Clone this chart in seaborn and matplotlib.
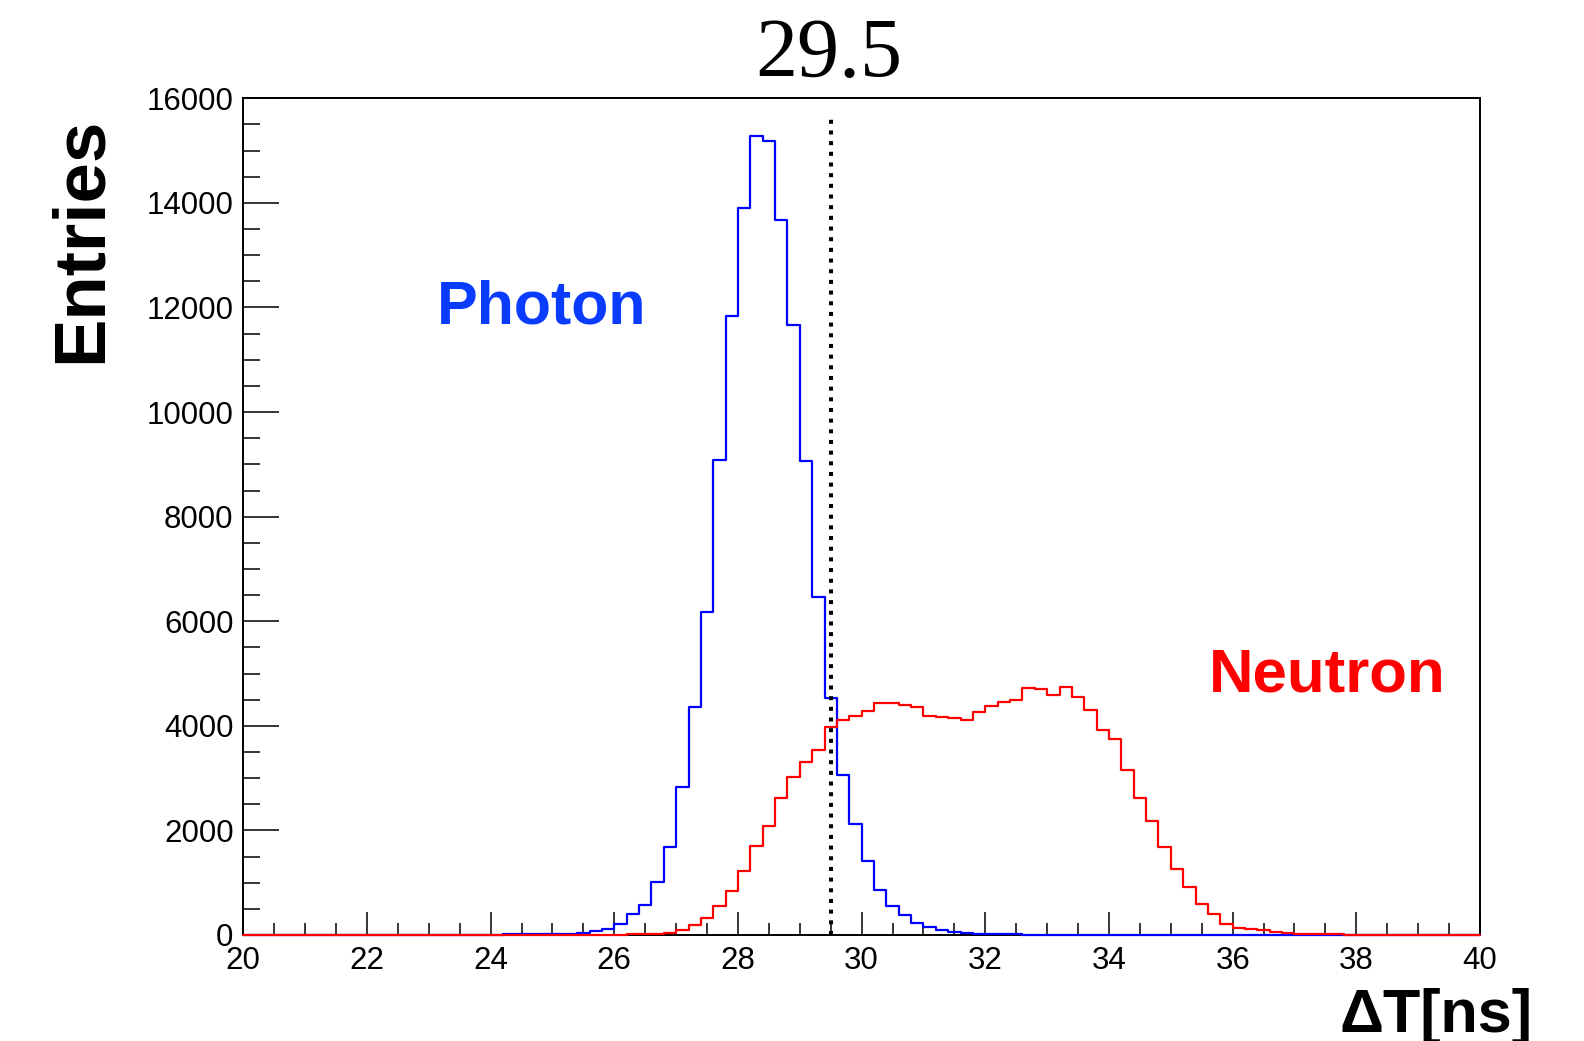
import numpy as np
import pandas as pd
import matplotlib
matplotlib.use("Agg")
import matplotlib.pyplot as plt
from matplotlib.ticker import MultipleLocator
import seaborn as sns

# ---------------- data ----------------
bin_low = 20.0
bin_high = 40.0
n_bins = 100

photon_counts = [
    1, 0, 1, 0, 1, 1, 0, 1, 1, 2,
    1, 2, 2, 3, 3, 4, 4, 5, 6, 8,
    9, 10, 12, 14, 18, 22, 28, 44, 76, 115,
    215, 410, 574, 1019, 1689, 2824, 4354, 6182, 9080, 11840,
    13910, 15270, 15190, 13680, 11660, 9070, 6469, 4532, 3053, 2120,
    1409, 855, 561, 389, 236, 160, 96, 57, 32, 22,
    16, 12, 10, 9, 8, 7, 6, 5, 5, 4,
    4, 3, 3, 3, 2, 2, 2, 2, 1, 2,
    1, 1, 1, 1, 0, 1, 1, 0, 1, 1,
    0, 1, 0, 1, 0, 1, 0, 0, 1, 0,
]
neutron_counts = [
    0, 1, 0, 0, 1, 0, 1, 0, 0, 1,
    1, 0, 1, 1, 1, 0, 1, 1, 2, 1,
    2, 2, 2, 3, 3, 3, 4, 4, 5, 6,
    8, 10, 14, 20, 32, 96, 191, 331, 554, 841,
    1230, 1708, 2090, 2613, 3027, 3305, 3545, 3983, 4105, 4185,
    4289, 4442, 4430, 4392, 4360, 4181, 4162, 4149, 4117, 4270,
    4385, 4461, 4499, 4717, 4710, 4595, 4742, 4551, 4302, 3914,
    3753, 3149, 2613, 2180, 1689, 1256, 918, 587, 396, 216,
    135, 115, 90, 55, 35, 25, 18, 14, 11, 9,
    7, 6, 5, 4, 3, 3, 2, 2, 1, 1,
]
cut_value = 29.5
cut_line_top = 15700
title_text = "29.5"
x_label = "ΔT[ns]"
y_label = "Entries"
photon_label = "Photon"
neutron_label = "Neutron"

bin_width = (bin_high - bin_low) / n_bins
centers = bin_low + bin_width * (np.arange(n_bins) + 0.5)
photon_df = pd.DataFrame({"dt": centers, "w": np.asarray(photon_counts, dtype=float)})
neutron_df = pd.DataFrame({"dt": centers, "w": np.asarray(neutron_counts, dtype=float)})

# ---------------- style ----------------
sns.set_style("white")
plt.rcParams["font.family"] = ["Liberation Sans", "DejaVu Sans"]
plt.rcParams["text.color"] = "black"
plt.rcParams["xtick.color"] = "black"
plt.rcParams["ytick.color"] = "black"
plt.rcParams["axes.labelcolor"] = "black"

W, H = 1584, 1041
fig = plt.figure(figsize=(W / 100, H / 100), dpi=100)
ax = fig.add_axes([243.3 / W, 1 - 935 / H, (1480 - 243.3) / W, (935 - 98.3) / H])

line_blue = "#0000ff"
line_red = "#ff0000"

sns.histplot(data=photon_df, x="dt", weights="w", binwidth=bin_width,
             binrange=(bin_low, bin_high), element="step", fill=False,
             color=line_blue, linewidth=1.6, ax=ax)
sns.histplot(data=neutron_df, x="dt", weights="w", binwidth=bin_width,
             binrange=(bin_low, bin_high), element="step", fill=False,
             color=line_red, linewidth=1.6, ax=ax)
for ln in ax.lines:
    ln.set_zorder(3)
    ln.set_clip_on(False)

ax.vlines(cut_value, 0, cut_line_top, colors="black", linestyles=":",
          linewidth=2.9, zorder=4)

ax.set_xlim(bin_low, bin_high)
ax.set_ylim(0, 16000)
ax.set_xlabel("")
ax.set_ylabel("")

ax.xaxis.set_major_locator(MultipleLocator(2))
ax.xaxis.set_minor_locator(MultipleLocator(0.5))
ax.yaxis.set_major_locator(MultipleLocator(2000))
ax.yaxis.set_minor_locator(MultipleLocator(500))

for s in ax.spines.values():
    s.set_visible(True)
    s.set_color("black")
    s.set_linewidth(1.4)

ax.tick_params(axis="both", which="both", direction="in", bottom=True, left=True,
               top=False, right=False, color="black", width=1.1,
               labelcolor="black")
ax.tick_params(axis="y", which="major", length=26, pad=7, labelsize=22.5)
ax.tick_params(axis="y", which="minor", length=12)
ax.tick_params(axis="x", which="major", length=16.5, pad=8, labelsize=22.5)
ax.tick_params(axis="x", which="minor", length=8.6)

# ---------------- texts ----------------
fig.text(829 / W, 1 - 76.7 / H, title_text, ha="center", va="baseline",
         fontsize=60.5, color="black", family=["Liberation Serif", "DejaVu Serif"])
fig.text(437 / W, 1 - 324 / H, photon_label, ha="left", va="baseline",
         fontsize=43.8, fontweight="bold", color="#0a3cff")
fig.text(1209 / W, 1 - 691 / H, neutron_label, ha="left", va="baseline",
         fontsize=44.5, fontweight="bold", color="#ff0000")
fig.text(1533 / W, 1 - 1032 / H, x_label, ha="right", va="baseline",
         fontsize=44, fontweight="bold", color="black")
fig.text(82 / W, 1 - 240 / H, y_label, ha="center", va="center", rotation=90,
         fontsize=52.3, fontweight="bold", color="black")

fig.savefig("out.png", dpi=100)
